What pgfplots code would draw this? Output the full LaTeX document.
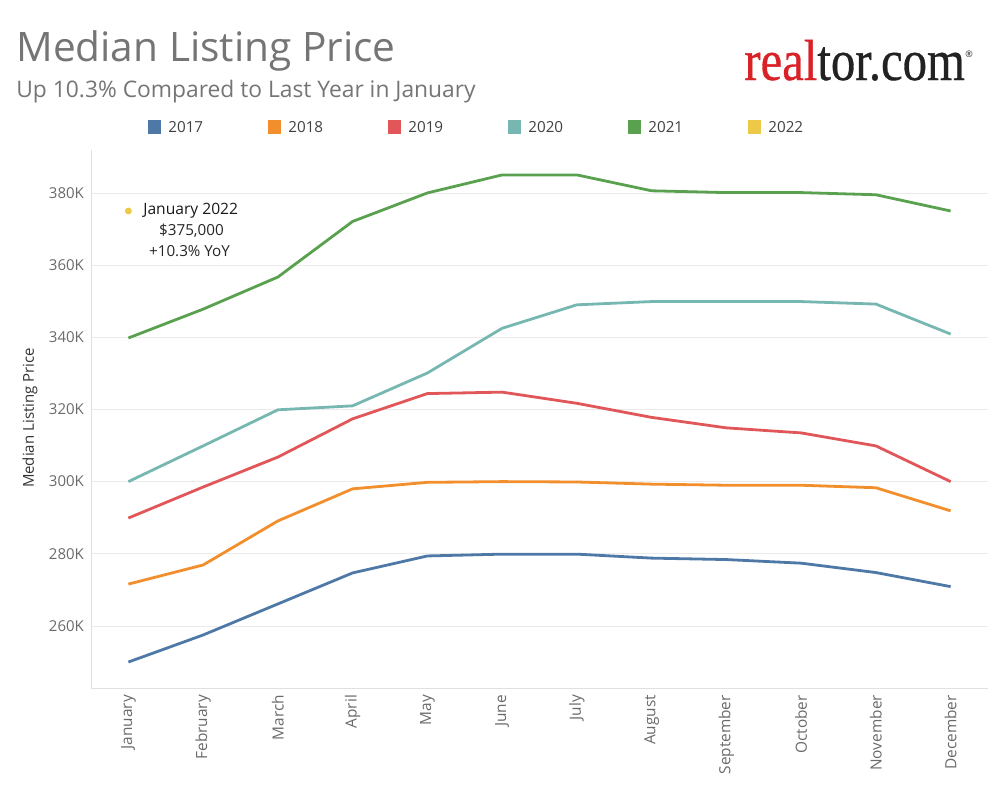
\documentclass[border=0pt]{standalone}
\usepackage{pgfplots}
\pgfplotsset{compat=1.18}
\usepackage{graphicx}
\usepackage{fontspec}
\setmainfont{Open Sans}
\newfontfamily\logofont[FakeBold=0.6]{Liberation Serif}
\definecolor{c17}{HTML}{4E79A7}
\definecolor{c18}{HTML}{F28E2B}
\definecolor{c19}{HTML}{E15759}
\definecolor{c20}{HTML}{76B7B2}
\definecolor{c21}{HTML}{59A14F}
\definecolor{c22}{HTML}{EDC948}
\definecolor{titlegray}{HTML}{757575}
\definecolor{labelgray}{HTML}{6A6A6A}
\definecolor{logored}{HTML}{D92228}
\definecolor{logoblack}{HTML}{222222}
\begin{document}
\begin{tikzpicture}
\begin{scope}[x=0.5pt,y=-0.5pt]
\path[use as bounding box] (0,0) rectangle (1000,800);
\node[anchor=base west, inner sep=0, text=titlegray, font=\fontsize{20.3}{23}\selectfont] at (16,61) {Median Listing Price};
\node[anchor=base west, inner sep=0, text=titlegray, font=\fontsize{11.4}{13}\selectfont] at (16,97) {Up 10.3\% Compared to Last Year in January};
\node[anchor=base west, inner sep=0] at (744,80) {\logofont\fontsize{29}{32}\selectfont\scalebox{0.84}[1]{\textcolor{logored}{real}\textcolor{logoblack}{tor.com}}};
\node[anchor=base west, inner sep=0, text=logoblack, font=\fontsize{4.5}{6}\selectfont] at (965,57) {\textregistered};
\foreach \c/\lab [count=\i from 0] in {c17/2017,c18/2018,c19/2019,c20/2020,c21/2021,c22/2022} {
  \fill[\c] (148+120*\i,120) rectangle ++(13,14);
  \node[anchor=west, inner sep=0, text=black!75, font=\fontsize{7.6}{9}\selectfont] at (168+120*\i,127.5) {\lab};
}
\node[anchor=west, inner sep=0, text=black!90, font=\fontsize{7.8}{9}\selectfont] at (143,211) {January 2022};
\node[anchor=center, inner sep=0, text=black!85, font=\fontsize{7.6}{9}\selectfont] at (191.5,231) {\$375,000};
\node[anchor=center, inner sep=0, text=black!85, font=\fontsize{7.6}{9}\selectfont] at (189.5,251) {+10.3\% YoY};
\end{scope}
\begin{axis}[
  at={(45.5pt,-344pt)}, anchor=south west,
  width=448.5pt, height=269pt, scale only axis,
  xmin=-0.5, xmax=11.5, ymin=242.8, ymax=391.9,
  axis x line*=bottom, axis y line*=left,
  axis line style={draw=black!12, line width=0.5pt, -},
  ymajorgrids, major grid style={draw=black!8, line width=0.4pt},
  xtick={0,...,11},
  xticklabels={January,February,March,April,May,June,July,August,September,October,November,December},
  ytick={260,280,300,320,340,360,380},
  yticklabels={260K,280K,300K,320K,340K,360K,380K},
  xtick style={draw=none}, ytick style={draw=none},
  extra x ticks={0.5,1.5,2.5,3.5,4.5,5.5,6.5,7.5,8.5,9.5,10.5},
  extra x tick labels={},
  extra x tick style={grid=none, tick align=outside, major tick length=2pt, tick style={draw=black!12, line width=0.5pt}},
  xticklabel style={rotate=90, anchor=east, font=\fontsize{7.7}{9}\selectfont, text=labelgray},
  yticklabel style={font=\fontsize{7.5}{9}\selectfont, text=labelgray},
  ylabel={Median Listing Price},
  ylabel style={at={(axis description cs:-0.068,0.502)}, anchor=center, font=\fontsize{7.5}{9}\selectfont, text=black!80},
  clip=false,
]
\addplot[c17, line width=1.4pt] coordinates {(0,250) (1,257.5) (2,266.1) (3,274.7) (4,279.4) (5,279.9) (6,279.9) (7,278.8) (8,278.4) (9,277.4) (10,274.8) (11,270.9)};
\addplot[c18, line width=1.4pt] coordinates {(0,271.6) (1,276.9) (2,289.1) (3,298.0) (4,299.8) (5,300.0) (6,299.9) (7,299.3) (8,299.0) (9,299.0) (10,298.3) (11,291.9)};
\addplot[c19, line width=1.4pt] coordinates {(0,289.9) (1,298.5) (2,306.8) (3,317.4) (4,324.4) (5,324.8) (6,321.7) (7,317.8) (8,314.9) (9,313.5) (10,309.9) (11,300.0)};
\addplot[c20, line width=1.4pt] coordinates {(0,300.0) (1,309.9) (2,319.9) (3,321.0) (4,330.1) (5,342.5) (6,349.0) (7,349.9) (8,349.9) (9,349.9) (10,349.2) (11,340.9)};
\addplot[c21, line width=1.4pt] coordinates {(0,339.8) (1,347.8) (2,356.7) (3,372.1) (4,380.0) (5,385.0) (6,385.0) (7,380.6) (8,380.1) (9,380.1) (10,379.5) (11,375.0)};
\addplot[only marks, mark=*, mark size=1.5pt, color=c22, mark options={draw=c22, fill=c22}] coordinates {(0,375)};
\end{axis}
\end{tikzpicture}
\end{document}
